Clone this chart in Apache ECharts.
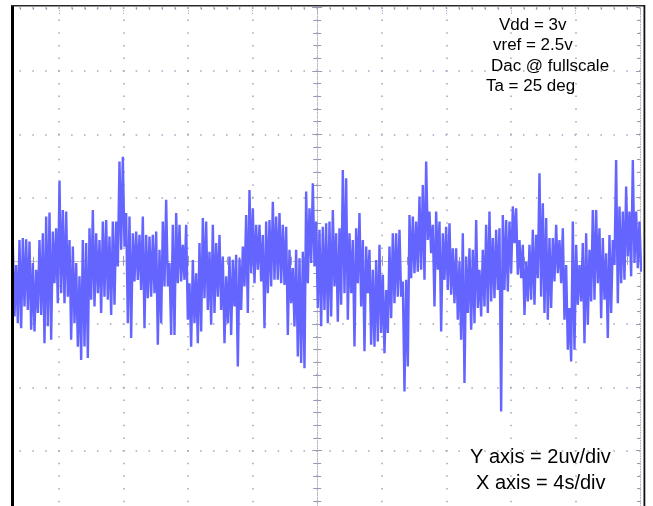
<!DOCTYPE html>
<html><head><meta charset="utf-8">
<script src="https://cdn.jsdelivr.net/npm/echarts@6/dist/echarts.min.js"></script>
<style>html,body{margin:0;padding:0;background:#fff}#c{width:653px;height:506px}</style>
</head><body><div id="c"></div>
<script>
// ---- data ----
const xRange = [-20, 20];      // seconds, 4 s/div
const xStep = 4;
const yRange = [-8, 8];        // microvolts, 2 uV/div
const yStep = 2;
const sampleStart = -18.858;   // s, first sample time
const samplePeriod = 0.10326;  // s between samples
const noiseUV = [
  0.51,-1.76, -0.13,-1.97, 0.66,-2.13, 0.72,-1.44, 0.68,-1.55, 0.61,-2.18, -0.07,-2.23, -0.28,-1.65, 0.66,-1.71, 0.87,-2.60,
  1.40,-2.07, 1.53,-2.49, 0.93,-0.71, 1.03,-1.34, 2.54,-1.02, 1.61,-1.34, 1.56,-1.13, 0.66,-2.49, 0.45,-1.97, -0.07,-2.71,
  -0.49,-3.13, 0.66,-2.71, 0.56,-3.07, 1.03,-1.23, 1.61,-1.44, 0.87,-1.02, 0.66,-1.65, 1.24,-1.13, 1.29,-1.23, 0.77,-1.71,
  1.24,-1.39, 1.24,-0.18, 3.14,0.35, 3.29,0.45, 1.51,-1.97, 1.40,-2.44, 0.87,-0.65, 0.93,-0.60, 0.82,-0.92, 1.40,-2.13,
  0.82,-1.18, 0.77,-1.13, 0.82,-1.02, 0.93,-2.65, 0.35,-1.97, 1.24,-0.81, 1.93,-0.81, -0.07,-2.34,
  1.14,-2.34, 1.51,-0.71, 1.14,-0.65, 0.51,-0.60, 1.14,-1.86, -0.71,-2.71, 0.03,-1.97, -0.39,-2.60, 0.56,-2.23, 1.35,-1.18,
  1.24,-1.55, 0.29,-2.02, 1.14,-1.65, 0.56,-1.13, 0.82,-1.55, 0.14,-2.60, -0.49,-1.97, 0.14,-2.34, 0.03,-1.44, 0.19,-3.34,
  0.08,-1.55, 0.45,-0.81, 1.45,-1.65, 2.24,-0.39, 1.66,-0.71, 1.14,-0.28, 1.14,-0.65, 0.82,-2.13, 1.24,-1.02, 1.29,-0.81,
  1.87,-0.60, 1.40,-0.60, 1.51,-0.71, 1.14,-0.76, 1.08,-2.34, 0.35,-1.34, -0.23,-2.07, 0.35,-3.02, 0.08,-3.23, 0.29,-3.39,
  2.19,-0.71, 1.66,-0.07, 2.45,-0.18, 1.24,-1.49, 0.98,-2.07, 1.08,-1.55, 1.19,-1.97,
  1.24,-1.76,
  1.61,-0.81, 0.87,-1.92, 1.03,-1.39, 2.87,-1.02, 2.61,-1.86, 0.87,-1.02, 0.66,-2.71, 1.03,-0.71, 1.51,-1.44, 0.66,-2.86,
  0.45,-1.02, 0.35,-2.65, -0.28,-2.71, 0.03,-2.55, 0.51,-2.28, -0.44,-2.92, -0.92,-2.28, 0.45,-1.81, 0.87,-1.34, 0.87,-1.13,
  0.98,-1.13, -0.65,-4.13, -0.60,-3.34, 1.45,-0.55, 1.40,-0.39, 1.24,-0.34, 2.03,-0.28, 2.40,-0.60, 3.14,0.66, 1.56,0.24,
  1.14,-1.44, 1.56,-0.28, 1.24,-2.23, 0.87,-0.60, 1.08,-0.92, 1.19,-1.07, 0.40,-1.34, 0.40,-1.86, -0.02,-2.49, 0.87,-3.86,
  0.14,-1.65, 0.40,-2.18, 0.35,-1.97, 1.29,-1.49, -0.28,-1.76, 0.35,-1.44, 1.14,-1.65,
  1.56,-1.28, 0.72,-1.18, 0.98,-0.92, 1.03,-4.76, 1.45,-0.92, 1.29,-0.97, 1.24,-0.39, 1.72,0.56, 1.66,-0.44, 0.66,-0.55,
  0.51,-1.71, -0.02,-1.28, 0.51,-1.23, 0.98,-1.39, 0.82,-0.55, 2.77,-1.13, 1.82,-1.65, 1.35,-1.86, 0.72,-1.49, 0.72,-0.65,
  1.14,-0.39, 0.66,-0.71, 1.03,-1.86, -0.13,-2.81, -1.49,-3.18, 1.24,-2.81, 0.51,-1.39, -0.13,-1.28, 0.56,-2.60, 0.87,-2.02,
  0.35,-1.28, 1.61,-1.23, 1.61,-0.71, 1.03,-1.81, 0.72,-1.23, 0.24,-2.44, 0.82,-1.65, 0.66,-0.13, 3.19,-1.34, 1.72,-0.71,
  1.56,-0.60, 2.35,0.14, 1.56,-0.49, 3.19,-0.07, 1.56,-0.23, 1.24,-0.34
];
const notesTop = ['Vdd = 3v', 'vref = 2.5v', 'Dac @ fullscale', 'Ta = 25 deg'];
const notesBottom = ['Y axis = 2uv/div', 'X axis = 4s/div'];

// ---- layout / style ----
const topPos = [[499, 25.5], [493, 46], [491, 66.6], [486, 86.6]];
const bottomPos = [[470, 457.5], [476, 483]];
const gridCol = '#a4a4bc';
const centerCol = '#b4b4c8';
const tickCol = '#9a9ab4';
const FONT = '"Liberation Sans", Arial, sans-serif';

const seriesData = noiseUV.map((v, i) => [sampleStart + i * samplePeriod, v]);

function centerAxis(extra) {
  return Object.assign({
    type: 'value',
    axisLabel: { show: false },
    axisLine: { show: true, onZero: true, onZeroAxisIndex: 0, lineStyle: { color: centerCol, width: 1, type: [1, 1.6] } },
    axisTick: { show: true, length: 5, lineStyle: { color: tickCol, width: 1 } },
    minorTick: { show: true, splitNumber: 5, length: 4, lineStyle: { color: tickCol, width: 1 } },
    splitLine: { show: false }
  }, extra);
}

const chart = echarts.init(document.getElementById('c'), null, { renderer: 'canvas' });
chart.setOption({
  animation: false,
  backgroundColor: '#fff',
  grid: { left: -5.6, right: 13, top: 7.7, bottom: -8, containLabel: false, outerBoundsMode: 'none' },
  xAxis: [
    centerAxis({ min: xRange[0], max: xRange[1], interval: xStep, position: 'bottom',
      splitLine: { show: true, lineStyle: { color: gridCol, width: 1.5, type: [1.5, 11.16], dashOffset: 0.75 } } }),
    centerAxis({ min: xRange[0], max: xRange[1], interval: xStep, position: 'top' }),
    { type: 'value', min: xRange[0], max: xRange[1], interval: xStep, position: 'top',
      axisLabel: { show: false }, splitLine: { show: false },
      axisLine: { show: false, onZero: false },
      axisTick: { show: true, inside: true, length: 7, lineStyle: { color: tickCol, width: 1, type: [1, 1.5] } },
      minorTick: { show: true, splitNumber: 5, length: 2, lineStyle: { color: tickCol, width: 1.2 } } }
  ],
  yAxis: [
    centerAxis({ min: yRange[0], max: yRange[1], interval: yStep, position: 'left',
      splitLine: { show: true, lineStyle: { color: gridCol, width: 1.5, type: [1.5, 11.41], dashOffset: 0.75 } } }),
    centerAxis({ min: yRange[0], max: yRange[1], interval: yStep, position: 'right' }),
    { type: 'value', min: yRange[0], max: yRange[1], interval: yStep, position: 'right',
      axisLabel: { show: false }, splitLine: { show: false },
      axisLine: { show: true, onZero: false, lineStyle: { color: centerCol, width: 1, type: [1, 1.6] } },
      axisTick: { show: true, inside: true, length: 4, lineStyle: { color: tickCol, width: 1 } },
      minorTick: { show: true, splitNumber: 5, length: 3, lineStyle: { color: tickCol, width: 1 } } }
  ],
  series: [{
    type: 'line',
    xAxisIndex: 0, yAxisIndex: 0,
    data: seriesData,
    showSymbol: false,
    symbol: 'none',
    clip: true,
    z: 5,
    lineStyle: { color: '#6464ff', width: 2.4, join: 'miter', miterLimit: 3 }
  }],
  graphic: [
    { type: 'rect', z: 100, silent: true, shape: { x: 0, y: 0, width: 11, height: 506 }, style: { fill: '#fff' } },
    { type: 'rect', z: 100, silent: true, shape: { x: 0, y: 0, width: 653, height: 5 }, style: { fill: '#fff' } },
    { type: 'rect', z: 100, silent: true, shape: { x: 645.3, y: 0, width: 8, height: 506 }, style: { fill: '#fff' } },
    { type: 'rect', z: 101, silent: true, shape: { x: 11, y: 5, width: 3, height: 501 }, style: { fill: '#000' } },
    { type: 'rect', z: 101, silent: true, shape: { x: 11, y: 5, width: 634, height: 1.6 }, style: { fill: '#2a2a2a' } },
    { type: 'rect', z: 101, silent: true, shape: { x: 643.5, y: 5, width: 1.8, height: 501 }, style: { fill: '#111' } }
  ].concat(notesTop.map((t, i) => ({
    type: 'text', z: 102, silent: true, x: topPos[i][0], y: topPos[i][1], scaleX: 1.06,
    style: { text: t, font: '16px ' + FONT, fill: '#000', align: 'left', verticalAlign: 'middle' }
  }))).concat(notesBottom.map((t, i) => ({
    type: 'text', z: 102, silent: true, x: bottomPos[i][0], y: bottomPos[i][1],
    style: { text: t, font: '20px ' + FONT, fill: '#000', align: 'left', verticalAlign: 'middle' }
  })))
});
</script>
</body></html>
